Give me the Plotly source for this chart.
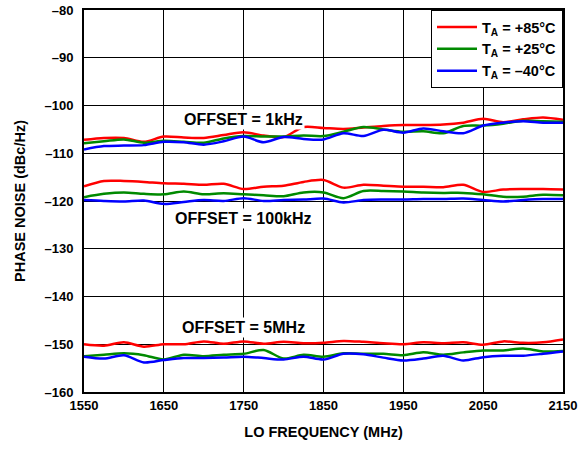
import plotly.graph_objects as go

freq = [1550, 1575, 1600, 1625, 1650, 1675, 1700, 1725, 1750, 1775, 1800, 1825, 1850,
        1875, 1900, 1925, 1950, 1975, 2000, 2025, 2050, 2075, 2100, 2125, 2150]

# offset = 1kHz
red_1k = [-107.2, -106.8, -106.8, -107.6, -106.5, -106.7, -106.8, -106.2, -105.6, -106.3, -106.6, -104.5, -104.7,
          -104.9, -104.6, -104.3, -104.1, -104.1, -104.0, -103.6, -102.8, -103.5, -102.9, -102.5, -103.0]
green_1k = [-107.9, -107.5, -107.1, -107.8, -107.4, -107.6, -107.8, -106.9, -106.4, -106.5, -106.5, -106.3, -106.4,
            -105.5, -104.5, -105.0, -105.5, -105.4, -105.8, -104.3, -104.2, -103.8, -103.2, -103.3, -103.4]
blue_1k = [-109.2, -108.5, -108.4, -108.3, -107.6, -107.7, -108.2, -107.5, -106.5, -107.7, -106.6, -107.0, -107.1,
           -105.8, -106.4, -105.1, -105.7, -104.8, -105.4, -105.8, -104.2, -103.6, -103.3, -103.6, -103.6]

# offset = 100kHz
red_100k = [-116.9, -115.8, -115.8, -116.0, -116.3, -116.4, -116.6, -116.4, -117.5, -117.0, -116.8, -116.0, -115.6,
            -117.2, -116.6, -116.8, -117.0, -117.0, -117.1, -116.6, -118.1, -117.6, -117.5, -117.5, -117.6]
green_100k = [-119.2, -118.5, -118.2, -118.5, -118.6, -118.0, -118.6, -118.4, -118.6, -118.8, -119.0, -118.2, -118.2,
              -119.4, -117.9, -117.9, -118.0, -118.2, -118.3, -118.3, -118.6, -119.1, -119.1, -118.7, -118.8]
blue_100k = [-119.8, -120.0, -120.1, -119.9, -120.6, -120.2, -119.8, -120.0, -119.4, -120.0, -119.8, -119.7, -119.5,
             -120.3, -119.8, -119.7, -119.7, -119.6, -119.6, -119.5, -119.8, -120.1, -119.8, -119.6, -119.6]

# offset = 5MHz
red_5m = [-150.0, -150.3, -149.6, -150.5, -150.0, -150.0, -149.4, -149.9, -149.4, -149.9, -149.5, -149.8, -149.7,
          -149.3, -149.5, -149.8, -150.0, -149.6, -149.8, -149.6, -150.1, -149.4, -149.7, -149.6, -149.0]
green_5m = [-152.5, -152.2, -151.9, -152.3, -153.2, -152.2, -152.5, -152.2, -152.0, -151.2, -153.0, -152.2, -152.6,
            -151.9, -152.0, -152.0, -152.3, -151.7, -152.2, -151.7, -151.3, -151.3, -150.9, -151.5, -151.4]
blue_5m = [-152.6, -153.0, -152.3, -153.8, -153.3, -152.9, -152.9, -152.8, -152.6, -152.9, -153.2, -152.6, -153.2,
           -152.0, -152.1, -152.8, -153.4, -153.0, -152.4, -153.4, -152.7, -152.4, -152.4, -152.0, -151.5]

temps = ['T<sub>A</sub> = +85°C', 'T<sub>A</sub> = +25°C', 'T<sub>A</sub> = –40°C']
colors = ['#ff0000', '#008a00', '#0000ff']
groups = [[red_1k, red_100k, red_5m], [green_1k, green_100k, green_5m], [blue_1k, blue_100k, blue_5m]]

offsets = ['OFFSET = 1kHz', 'OFFSET = 100kHz', 'OFFSET = 5MHz']
offset_x = [1750, 1750, 1750]
offset_y = [-103.0, -123.6, -146.4]

yticks = list(range(-160, -79, 10))
xticks = list(range(1550, 2151, 100))

fig = go.Figure()
for name, col, series in zip(temps, colors, groups):
    for i, s in enumerate(series):
        fig.add_trace(go.Scatter(x=freq, y=s, mode='lines', name='<b>%s</b>' % name,
                                 line=dict(color=col, width=2.5, shape='spline', smoothing=0.8),
                                 showlegend=(i == 0), legendgroup=name))

for txt, xx, yy in zip(offsets, offset_x, offset_y):
    fig.add_annotation(x=xx, y=yy, text='<b>%s</b>' % txt, showarrow=False,
                       bgcolor='white', borderpad=1,
                       font=dict(size=16, color='black'))

axis_common = dict(showgrid=True, gridcolor='black', gridwidth=1, showline=True, linecolor='black',
                   linewidth=2, mirror=True, ticks='', zeroline=False, automargin=False,
                   tickfont=dict(size=13, color='black'))

fig.update_xaxes(range=[1550, 2150], tickvals=xticks, ticktext=['<b>%d</b>' % t for t in xticks],
                 title=dict(text='<b>LO FREQUENCY (MHz)</b>', font=dict(size=14.5, color='black')),
                 **axis_common)
fig.update_yaxes(range=[-160, -80], tickvals=yticks, ticktext=['<b>–%d</b>' % -t for t in yticks],
                 title=dict(text='<b>PHASE NOISE (dBc/Hz)</b>', font=dict(size=14.5, color='black')),
                 ticklabelstandoff=6, **axis_common)

fig.update_layout(
    width=588, height=450,
    margin=dict(l=84, r=25, t=10, b=58),
    paper_bgcolor='white', plot_bgcolor='white',
    font=dict(family='Liberation Sans, Arial, sans-serif', color='black'),
    legend=dict(x=1, y=1, xanchor='right', yanchor='top', bgcolor='white',
                bordercolor='black', borderwidth=1, font=dict(size=14.5, color='black'),
                tracegroupgap=0, itemwidth=40),
)

# drop the browser's default 8px body margin so the figure sits at the page corner
fig.write_html("out.html", config={'displayModeBar': False},
               post_script="document.body.style.margin='0';")
